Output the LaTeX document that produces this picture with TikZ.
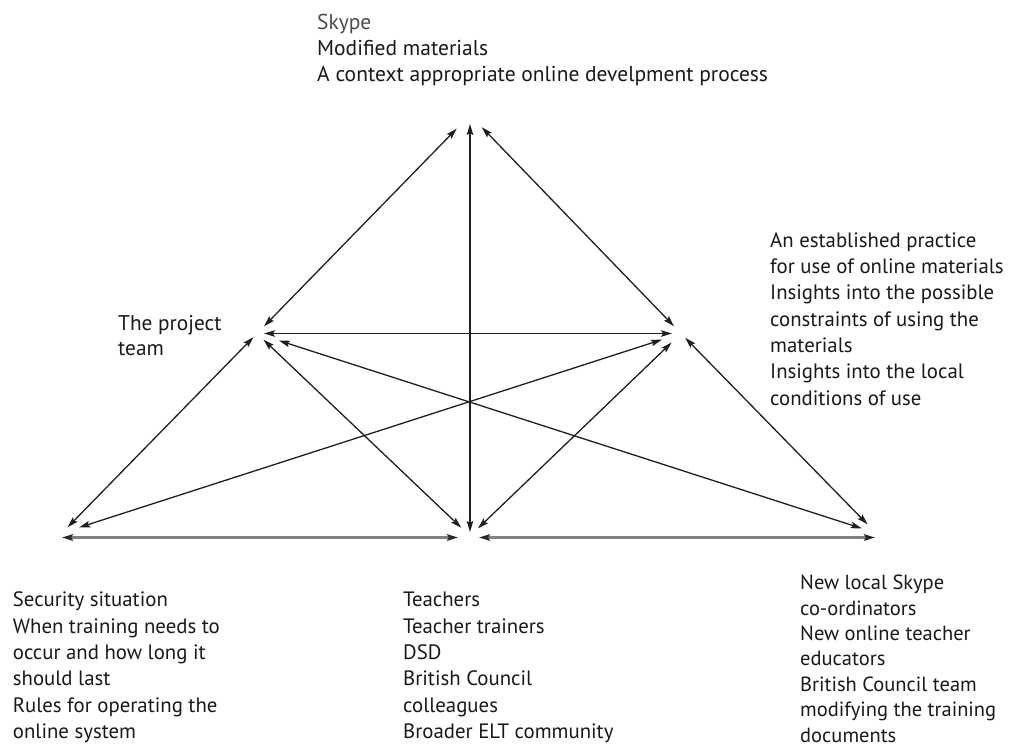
\documentclass[tikz,border=0pt]{standalone}
\usepackage{fontspec}
\setmainfont{PT Sans}
\usetikzlibrary{arrows.meta}
\begin{document}
\begin{tikzpicture}[x=1pt,y=-1pt,
  lbl/.style={inner sep=0pt, align=left, anchor=base west,
    font=\fontsize{20.8}{26.3}\selectfont, text=black!90},
  link/.style={draw=black!88, line width=1.3pt,
    {Stealth[length=11pt,width=6.5pt,inset=2pt]}-{Stealth[length=11pt,width=6.5pt,inset=2pt]}},
  groundline/.style={draw=black!50, line width=2.4pt,
    {Stealth[length=11pt,width=6.5pt,inset=2pt,color=black!85]}-{Stealth[length=11pt,width=6.5pt,inset=2pt,color=black!85]}}]
\useasboundingbox (0,0) rectangle (1009,749);
% vertices
\coordinate (T)  at (470,115);
\coordinate (L)  at (257,333.5);
\coordinate (R)  at (681,333.5);
\coordinate (BL) at (62,533);
\coordinate (BM) at (470,536);
\coordinate (BR) at (876,533);
\coordinate (BLg) at (62,537.5);
\coordinate (BMg) at (469,537.5);
\coordinate (BRg) at (876,537.5);
% texts (anchored at the baseline of their last line)
\node[lbl, font=\fontsize{21.5}{26.4}\selectfont] (top) at (317,82) {{\color{black!70}Skype}\\Modified materials\\A context appropriate online develpment process};
\node[lbl, font=\fontsize{21.3}{25}\selectfont] (team) at (118,355) {The project\\team};
\node[lbl] (right) at (770,405) {An established practice\\for use of online materials\\Insights into the possible\\constraints of using the\\materials\\Insights into the local\\conditions of use};
\node[lbl] (bl) at (12.7,738.3) {Security situation\\When training needs to\\occur and how long it\\should last\\Rules for operating the\\online system};
\node[lbl] (bm) at (403,738.3) {Teachers\\Teacher trainers\\DSD\\British Council\\colleagues\\Broader ELT community};
\node[lbl, font=\fontsize{20.5}{25.4}\selectfont] (br) at (800,742) {New local Skype\\co-ordinators\\New online teacher\\educators\\British Council team\\modifying the training\\documents};
% connectors
\draw[link, shorten <=19pt, shorten >=10pt] (T) -- (L);
\draw[link, shorten <=9pt, shorten >=4pt] (T) -- (BM);
\draw[link, shorten <=17pt, shorten >=10pt] (T) -- (R);
\draw[link, shorten <=7pt, shorten >=9pt] (L) -- (R);
\draw[link, shorten <=5pt, shorten >=8pt] (L) -- (BL);
\draw[link, shorten <=9pt, shorten >=12pt] (L) -- (BM);
\draw[link, shorten <=23pt, shorten >=15pt] (L) -- (BR);
\draw[link, shorten <=20pt, shorten >=18pt] (R) -- (BL);
\draw[link, shorten <=13pt, shorten >=11pt] (R) -- (BM);
\draw[link, shorten <=6pt, shorten >=12pt] (R) -- (BR);
\draw[groundline, shorten <=0pt, shorten >=11pt] (BLg) -- (BMg);
\draw[groundline, shorten <=10pt, shorten >=1pt] (BMg) -- (BRg);
\end{tikzpicture}
\end{document}
